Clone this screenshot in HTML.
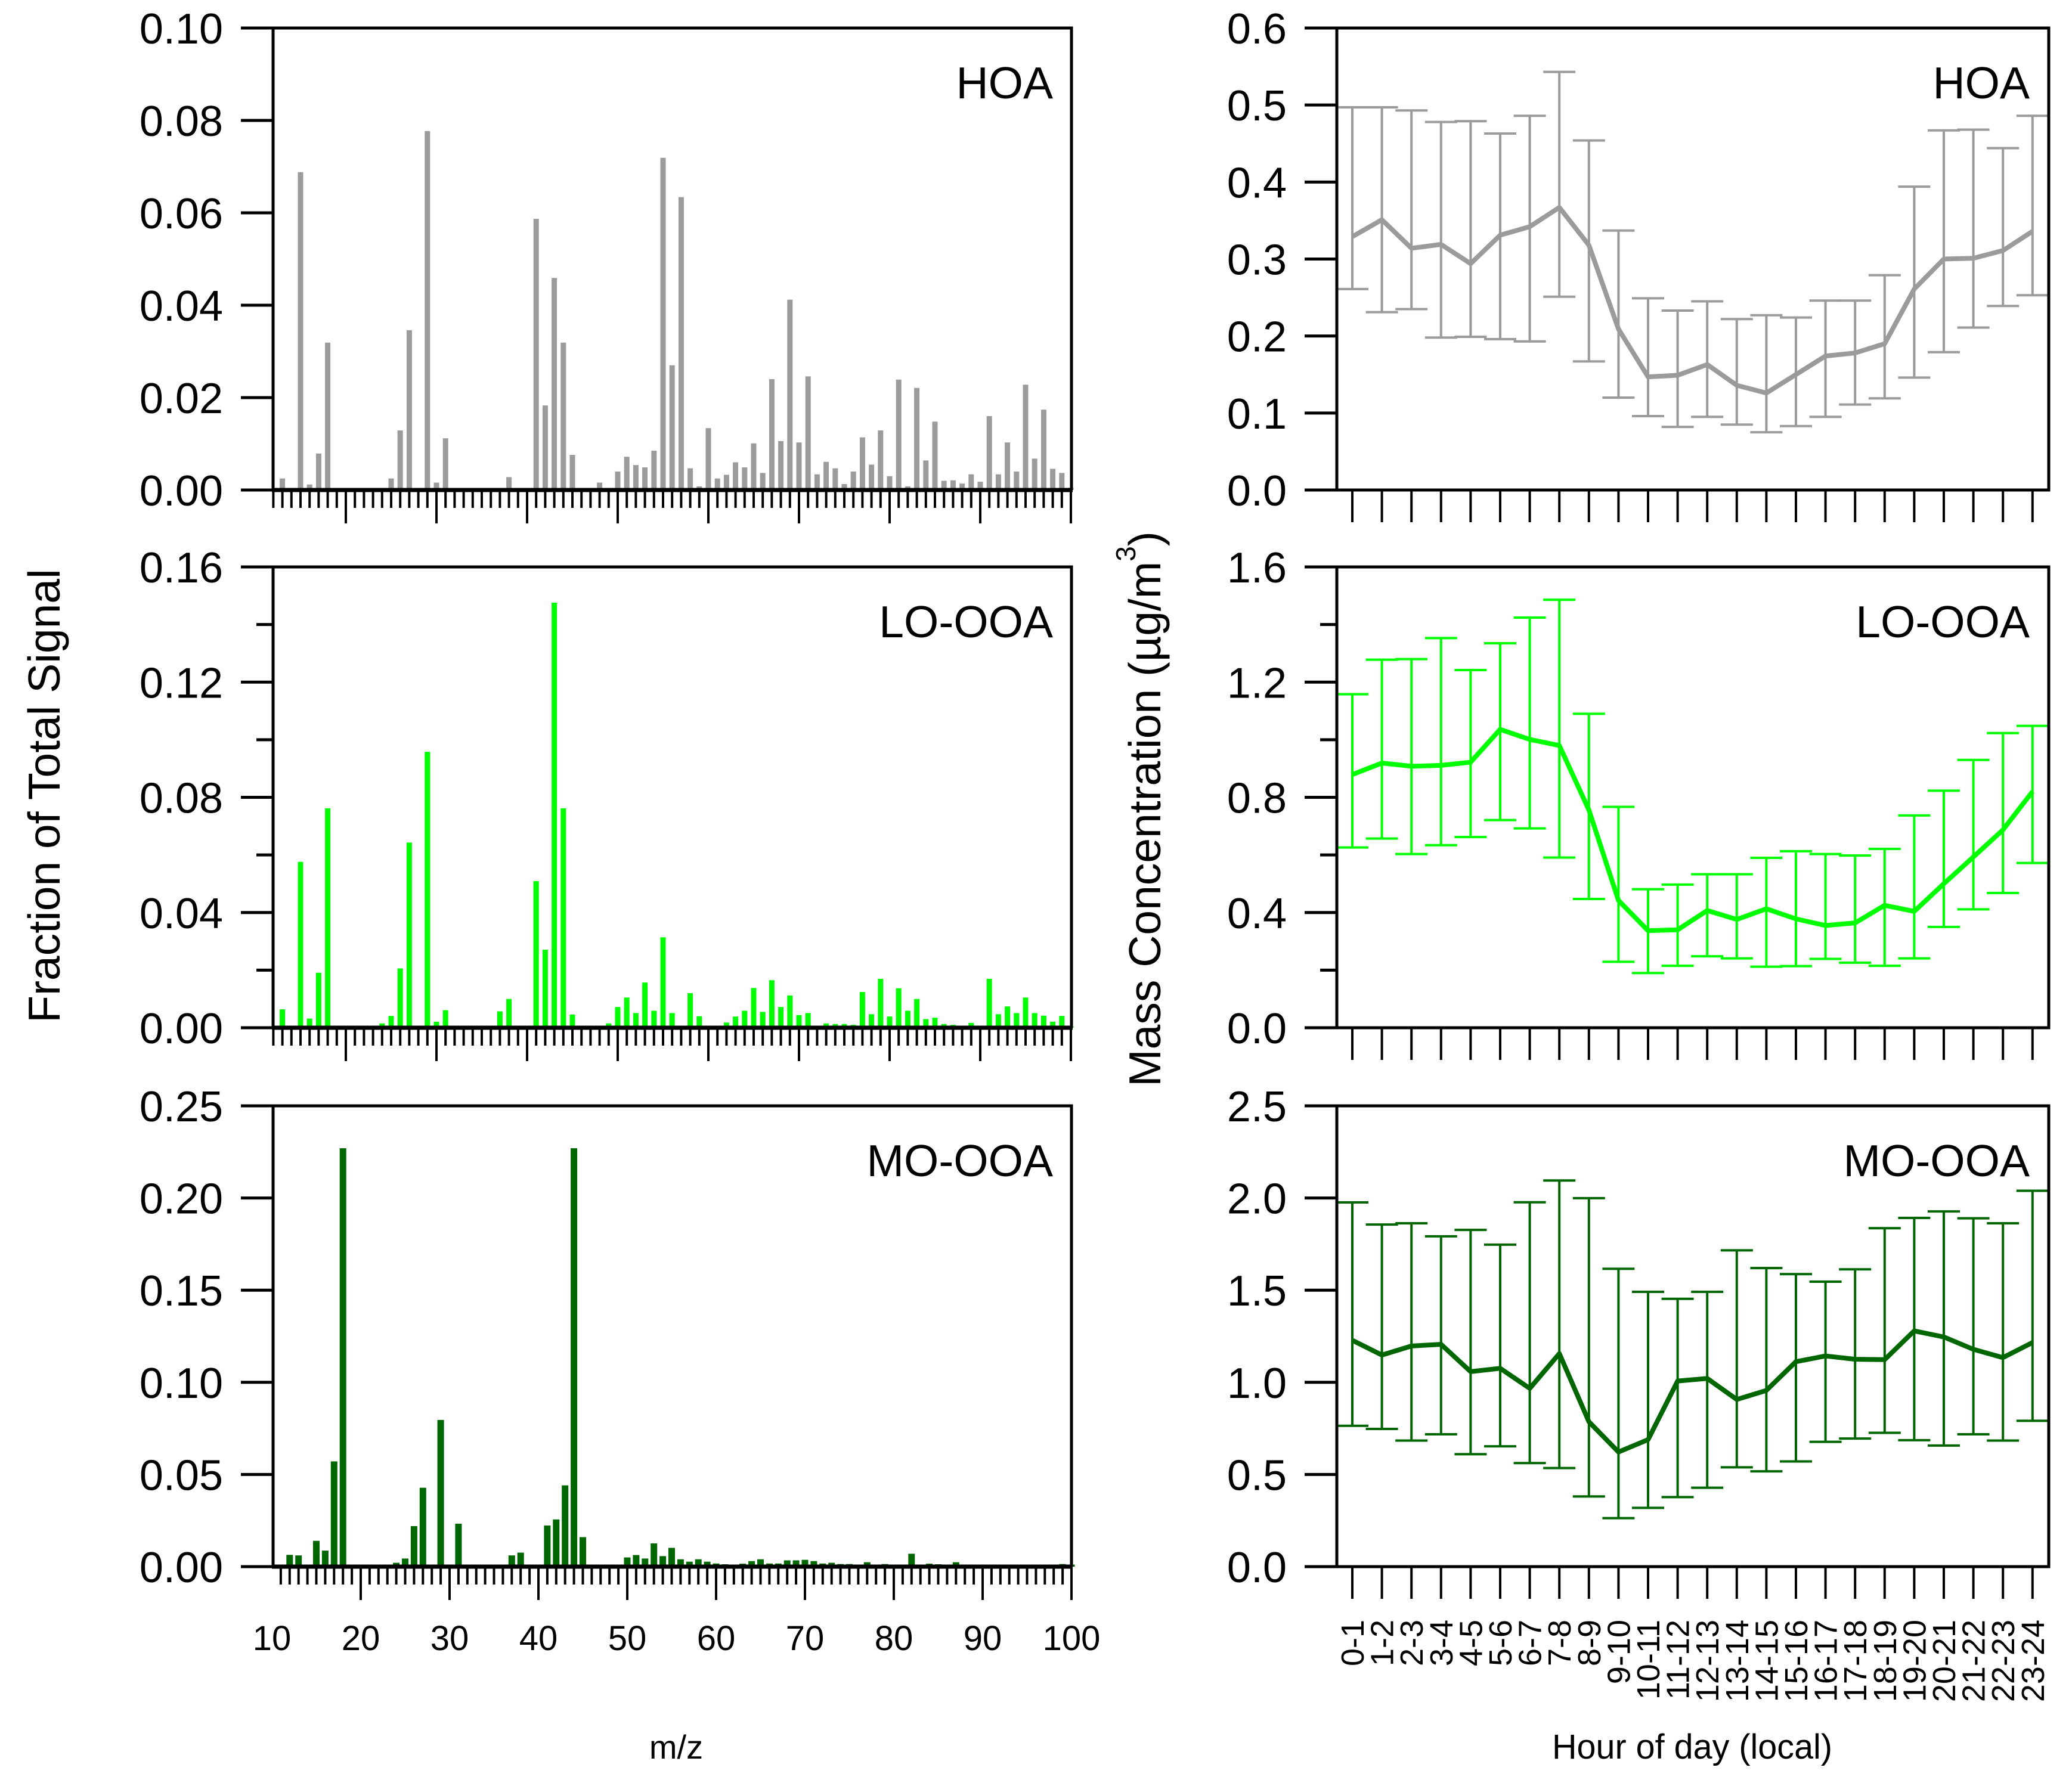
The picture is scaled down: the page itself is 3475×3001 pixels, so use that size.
<!DOCTYPE html>
<html><head><meta charset="utf-8"><style>
html,body{margin:0;padding:0;background:#fff;}
svg{display:block;font-family:"Liberation Sans",Arial,sans-serif;}
</style></head><body>
<svg id="chart" width="3475" height="3001" viewBox="0 0 3475 3001" xmlns="http://www.w3.org/2000/svg">
<rect width="3475" height="3001" fill="#fff"/>
<text transform="translate(100,1335) rotate(-90)" text-anchor="middle" font-size="75">Fraction of Total Signal</text>
<text transform="translate(1946,1357) rotate(-90)" text-anchor="middle" font-size="75">Mass Concentration (µg/m<tspan dy="-42" font-size="46">3</tspan><tspan dy="42">)</tspan></text>
<text x="1134" y="2950" text-anchor="middle" font-size="56">m/z</text>
<text x="2838" y="2950" text-anchor="middle" font-size="58" textLength="470" lengthAdjust="spacingAndGlyphs">Hour of day (local)</text>
<g id="plots"></g>
</svg>
<script>
// ---- Mass spectra data ----
const hoaMz=[13,15,16,17,18,25,26,27,29,30,31,38,41,42,43,44,45,48,50,51,52,53,54,55,56,57,58,59,60,61,62,63,64,65,66,67,68,69,70,71,72,73,74,75,76,77,78,79,80,81,82,83,84,85,86,87,88,89,90,91,92,93,94,95,96,97,98,99,100];
const hoaVal=[0.0025,0.0688,0.0012,0.0079,0.0319,0.0025,0.0129,0.0346,0.0777,0.0016,0.0112,0.0028,0.0587,0.0183,0.0459,0.0319,0.0076,0.0016,0.0040,0.0072,0.0054,0.0049,0.0085,0.0719,0.0270,0.0634,0.0047,0.0008,0.0134,0.0025,0.0033,0.0060,0.0049,0.0101,0.0037,0.0240,0.0106,0.0412,0.0103,0.0246,0.0034,0.0061,0.0047,0.0013,0.0040,0.0114,0.0055,0.0129,0.0030,0.0239,0.0008,0.0221,0.0064,0.0148,0.0020,0.0021,0.0014,0.0034,0.0018,0.0160,0.0034,0.0103,0.0040,0.0228,0.0068,0.0174,0.0046,0.0037,0.0005];
const looMz=[13,15,16,17,18,24,25,26,27,29,30,31,37,38,41,42,43,44,45,48,49,50,51,52,53,54,55,56,58,59,61,62,63,64,65,66,67,68,69,70,71,72,73,74,75,76,77,78,79,80,81,82,83,84,85,86,87,88,89,90,91,92,93,94,95,96,97,98,99,100];
const looVal=[0.0064,0.0576,0.0032,0.0191,0.0762,0.0015,0.0041,0.0206,0.0643,0.0958,0.0021,0.0061,0.0057,0.0100,0.0509,0.0271,0.1476,0.0762,0.0046,0.0007,0.0015,0.0072,0.0105,0.0051,0.0157,0.0059,0.0314,0.0051,0.0120,0.0040,0.0007,0.0018,0.0039,0.0059,0.0138,0.0055,0.0165,0.0072,0.0112,0.0044,0.0051,0.0006,0.0015,0.0013,0.0013,0.0010,0.0124,0.0047,0.0170,0.0039,0.0137,0.0059,0.0100,0.0030,0.0035,0.0013,0.0010,0.0005,0.0017,0.0006,0.0170,0.0047,0.0074,0.0051,0.0105,0.0051,0.0042,0.0021,0.0041,0.0005];
const mooMz=[12,13,15,16,17,18,24,25,26,27,29,30,31,37,38,41,42,43,44,45,48,49,50,51,52,53,54,55,56,57,58,59,60,61,62,63,64,65,66,67,68,69,70,71,72,73,74,75,76,77,78,79,80,81,82,83,84,85,86,87,88,89,90,91,94,96,97,98,99,100];
const mooVal=[0.0064,0.0061,0.0140,0.0087,0.0571,0.227,0.0021,0.0044,0.0220,0.0428,0.0796,0.0011,0.0233,0.0061,0.0076,0.0223,0.0256,0.0441,0.227,0.0160,0.0002,0.0011,0.0050,0.0063,0.0044,0.0126,0.0057,0.0102,0.0040,0.0027,0.0040,0.0027,0.0017,0.0013,0.0008,0.0016,0.0030,0.0040,0.0017,0.0017,0.0034,0.0034,0.0037,0.0030,0.0017,0.0021,0.0014,0.0014,0.0008,0.0024,0.0011,0.0014,0.0002,0.0004,0.0070,0.0001,0.0016,0.0013,0.0011,0.0024,0.0001,0.0011,0.0001,0.0004,0.0004,0.0008,0.0008,0.0011,0.0014,0.0011];
// ---- Diurnal data ----
const hourLabels=["0-1","1-2","2-3","3-4","4-5","5-6","6-7","7-8","8-9","9-10","10-11","11-12","12-13","13-14","14-15","15-16","16-17","17-18","18-19","19-20","20-21","21-22","22-23","23-24"];
const hoaMean=[0.329,0.351,0.314,0.319,0.294,0.331,0.342,0.367,0.318,0.209,0.147,0.149,0.163,0.136,0.126,0.150,0.174,0.178,0.190,0.261,0.300,0.301,0.311,0.336];
const hoaHi=[0.497,0.497,0.493,0.478,0.479,0.463,0.486,0.543,0.454,0.337,0.249,0.233,0.245,0.222,0.227,0.224,0.246,0.246,0.279,0.394,0.467,0.468,0.444,0.486];
const hoaLo=[0.261,0.231,0.235,0.198,0.199,0.196,0.193,0.251,0.167,0.120,0.096,0.082,0.095,0.085,0.075,0.083,0.095,0.111,0.119,0.146,0.179,0.211,0.239,0.253];
const looMean=[0.879,0.919,0.908,0.911,0.922,1.036,1.001,0.980,0.756,0.442,0.337,0.340,0.407,0.376,0.413,0.378,0.355,0.364,0.425,0.404,0.500,0.593,0.687,0.820];
const looHi=[1.158,1.278,1.280,1.353,1.242,1.335,1.424,1.486,1.090,0.767,0.481,0.497,0.533,0.533,0.590,0.613,0.603,0.598,0.621,0.737,0.823,0.930,1.023,1.048];
const looLo=[0.626,0.657,0.603,0.634,0.662,0.721,0.692,0.591,0.447,0.229,0.190,0.215,0.248,0.241,0.212,0.214,0.239,0.226,0.215,0.241,0.350,0.411,0.468,0.572];
const mooMean=[1.228,1.148,1.197,1.206,1.058,1.076,0.967,1.156,0.786,0.622,0.689,1.007,1.021,0.907,0.956,1.112,1.143,1.125,1.123,1.279,1.246,1.179,1.134,1.216];
const mooHi=[1.976,1.856,1.863,1.792,1.827,1.747,1.977,2.095,1.999,1.616,1.491,1.453,1.491,1.716,1.620,1.587,1.546,1.613,1.836,1.892,1.927,1.890,1.863,2.039];
const mooLo=[0.764,0.747,0.684,0.718,0.610,0.653,0.562,0.535,0.381,0.263,0.319,0.377,0.428,0.539,0.517,0.571,0.677,0.695,0.726,0.686,0.657,0.718,0.684,0.791];
const leftTicks1=["0.00","0.02","0.04","0.06","0.08","0.10"];
const leftTicks2=["0.00","0.04","0.08","0.12","0.16"];
const leftTicks3=["0.00","0.05","0.10","0.15","0.20","0.25"];
const rightTicks1=["0.0","0.1","0.2","0.3","0.4","0.5","0.6"];
const rightTicks2=["0.0","0.4","0.8","1.2","1.6"];
const rightTicks3=["0.0","0.5","1.0","1.5","2.0","2.5"];
const mzLabels=["10","20","30","40","50","60","70","80","90","100"];

const NS="http://www.w3.org/2000/svg";
const root=document.getElementById('plots');
function mk(tag,attrs,parent,txt){const e=document.createElementNS(NS,tag);for(const k in attrs)e.setAttribute(k,attrs[k]);if(txt!==undefined)e.textContent=txt;(parent||root).appendChild(e);return e;}

const tops=[47,951,1855], bots=[822,1724,2628];
const LX0=458, LX1=1797, RX0=2242, RX1=3436;
function xTop(m){return 1796-(100-m)*15.2;}
function xBot(m){return 456+(m-10)*14.9;}
function xHour(i){return 2268+i*49.6;}
function yScale(p,v,max){return bots[p]-v/max*(bots[p]-tops[p]);}

function frame(p,x0,x1,name,closed){
  const g=mk('g',{});
  
  
  mk('path',{d:`M${x0},${bots[p]} V${tops[p]} H${x1} V${bots[p]}`+(closed?` H${x0}`:''),fill:'none',stroke:'#000','stroke-width':5},g);
  return g;
}
function yAxis(p,x0,labels,max,minor,name){
  const g=mk('g',{});
  
  
  labels.forEach((t,i)=>{
    const v=parseFloat(t);const y=yScale(p,v,max);
    mk('line',{x1:x0-54,x2:x0,y1:y,y2:y,stroke:'#000','stroke-width':5},g);
    const tx=mk('text',{x:x0-84,y:y+26,'text-anchor':'end','font-size':72},g,t);
    
    
    if(minor&&i<labels.length-1){const vm=v+(parseFloat(labels[1])-parseFloat(labels[0]))/2;const ym=yScale(p,vm,max);
      mk('line',{x1:x0-28,x2:x0,y1:ym,y2:ym,stroke:'#000','stroke-width':5},g);}
  });
}
function bars(p,mz,val,max,xf,w,color,name){
  const g=mk('g',{fill:color});
  
  
  mz.forEach((m,i)=>{const y=yScale(p,val[i],max);
    const r=mk('rect',{x:xf(m)-w/2,y:y,width:w,height:bots[p]-y},g);
    
    });
}
function label(p,x,text){const t=mk('text',{x:x,y:tops[p]+118,'text-anchor':'end','font-size':75},root,text);
  
  }

const leftSpec=[[hoaMz,hoaVal,0.10,leftTicks1,false,'#9b9b9b','HOA',9],[looMz,looVal,0.16,leftTicks2,true,'#00ff00','LO-OOA',9],[mooMz,mooVal,0.25,leftTicks3,false,'#006600','MO-OOA',11]];
leftSpec.forEach((s,p)=>{
  const xf=p<2?xTop:xBot;
  bars(p,s[0],s[1],s[2],xf,s[7],s[5],'bars-'+s[6].toLowerCase());
  frame(p,LX0,LX1,'spectrum-'+s[6].toLowerCase(),false);
  yAxis(p,LX0,s[3],s[2],s[4],'y-axis-spectrum-'+s[6].toLowerCase());
  const g=mk('g',{stroke:'#000','stroke-width':4});
  
  
  mk('line',{x1:LX0-2,x2:LX1+2,y1:bots[p],y2:bots[p],'stroke-width':7},g);
  for(let m=10;m<=100;m++){const x=xf(m);if(x<LX0-1)continue;const major=m%10===0;
    mk('line',{x1:x,x2:x,y1:bots[p],y2:bots[p]+(major?56:30)},g);}
  label(p,1766,s[6]);
});
mzLabels.forEach(t=>{const tx=mk('text',{x:xBot(+t),y:2768,'text-anchor':'middle','font-size':58},root,t);
  
  });

const rightSpec=[[hoaMean,hoaHi,hoaLo,0.6,rightTicks1,false,'#9b9b9b','HOA'],[looMean,looHi,looLo,1.6,rightTicks2,true,'#00ff00','LO-OOA'],[mooMean,mooHi,mooLo,2.5,rightTicks3,false,'#006600','MO-OOA']];
rightSpec.forEach((s,p)=>{
  const g=mk('g',{stroke:s[6],fill:'none'});
  
  
  s[0].forEach((v,i)=>{const x=xHour(i);const yh=yScale(p,s[1][i],s[3]),yl=yScale(p,s[2][i],s[3]);
    const e=mk('path',{d:`M${x},${yh} V${yl} M${Math.max(RX0,x-27)},${yh} H${Math.min(RX1,x+27)} M${Math.max(RX0,x-27)},${yl} H${Math.min(RX1,x+27)}`,'stroke-width':4},g);
    
    });
  const pts=s[0].map((v,i)=>xHour(i)+','+yScale(p,v,s[3])).join(' ');
  const l=mk('polyline',{points:pts,'stroke-width':8,'stroke-linejoin':'round'},g);
  
  
  frame(p,RX0,RX1,'diurnal-'+s[7].toLowerCase(),true);
  yAxis(p,RX0,s[4],s[3],s[5],'y-axis-diurnal-'+s[7].toLowerCase());
  const tg=mk('g',{stroke:'#000','stroke-width':4});
  
  
  hourLabels.forEach((h,i)=>{const x=xHour(i);mk('line',{x1:x,x2:x,y1:bots[p],y2:bots[p]+54},tg);});
  label(p,3404,s[7]);
});
hourLabels.forEach((h,i)=>{const x=xHour(i);
  const t=mk('text',{transform:`translate(${x+19},2717) rotate(-90)`,'text-anchor':'end','font-size':54},root,h);
  
  });
</script>
</body></html>
